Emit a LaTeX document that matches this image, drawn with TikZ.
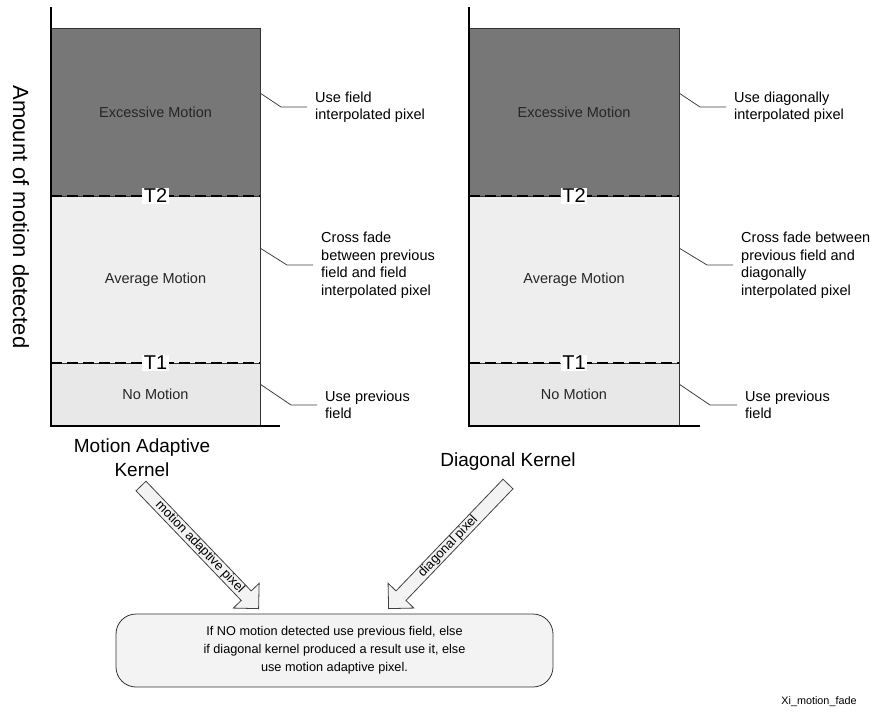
\documentclass[tikz,border=0pt]{standalone}
\usepackage{fontspec}
\setmainfont{Liberation Sans}
\usetikzlibrary{positioning,calc,shapes.arrows}

\definecolor{excfill}{HTML}{777777}
\definecolor{avgfill}{HTML}{EEEEEE}
\definecolor{nomfill}{HTML}{E8E8E8}
\definecolor{boxfill}{HTML}{F3F3F3}

\tikzset{
    band/.style = {
        draw=black!80,
        shape=rectangle,
        minimum width=209pt,
        line width=1pt,
        inner sep=0pt,
        outer sep=0pt,
        text=black!85,
        font=\fontsize{14.5}{17}\selectfont
    },
    excessive/.style = {band, fill=excfill, minimum height=168pt},
    average/.style = {band, fill=avgfill, minimum height=167pt},
    nomotion/.style = {band, fill=nomfill, minimum height=63pt},
    threshold/.style = {
        fill=white,
        inner sep=1.5pt,
        font=\fontsize{20}{20}\selectfont
    },
    tline/.style = {
        black!45,
        line width=1.5pt,
        postaction={draw=black, dash pattern=on 11pt off 5pt}
    },
    axisline/.style = {draw=black, line width=1.2pt},
    leader/.style = {draw=black!75, line width=0.8pt},
    note/.style = {
        anchor=west,
        inner xsep=8pt,
        inner ysep=0pt,
        align=left,
        font=\fontsize{14.5}{17.5}\selectfont
    },
    kernel/.style = {align=center, font=\fontsize{19}{24}\selectfont},
    decision/.style = {
        draw=black!80,
        fill=boxfill,
        shape=rectangle,
        rounded corners=20pt,
        minimum width=437pt,
        minimum height=73pt,
        line width=0.8pt,
        align=center,
        font=\fontsize{12.7}{18}\selectfont
    },
    fatarrow/.style = {
        draw=black!75,
        fill=boxfill,
        shape=single arrow,
        single arrow head extend=11pt,
        inner sep=6.5pt,
        outer sep=0pt,
        line width=0.8pt
    },
    arrowlabel/.style = {inner sep=0pt, font=\fontsize{13}{13}\selectfont},
}

\begin{document}
\begin{tikzpicture}[x=1pt, y=-1pt]
    \useasboundingbox (0,0) rectangle (872,721);

    \node[rotate=-90, font=\fontsize{22}{22}\selectfont] (ylabel) at (21,217) {Amount of motion detected};

    % motion adaptive kernel
    \node[excessive, anchor=north west] (exc1) at (51,28) {Excessive Motion};
    \node[average, below=0pt of exc1] (avg1) {Average Motion};
    \node[nomotion, below=0pt of avg1] (nom1) {No Motion};

    % diagonal kernel
    \node[excessive, anchor=north west, minimum width=210pt] (exc2) at (469,28) {Excessive Motion};
    \node[average, minimum width=210pt, below=0pt of exc2] (avg2) {Average Motion};
    \node[nomotion, minimum width=210pt, below=0pt of avg2] (nom2) {No Motion};

    \path[tline] (exc1.south west) -- (exc1.south east);
    \path[tline] (avg1.south west) -- (avg1.south east);
    \path[tline] (exc2.south west) -- (exc2.south east);
    \path[tline] (avg2.south west) -- (avg2.south east);
    \node[threshold] (t2a) at (exc1.south) {T2};
    \node[threshold] (t1a) at (avg1.south) {T1};
    \node[threshold] (t2b) at (exc2.south) {T2};
    \node[threshold] (t1b) at (avg2.south) {T1};

    \path[axisline] ($(exc1.north west)+(0,-21)$) -- (nom1.south west) -- ++(229,0);
    \path[axisline] ($(exc2.north west)+(0,-21)$) -- (nom2.south west) -- ++(231,0);

    \node[note] (note1) at (307,107) {Use field\\interpolated pixel};
    \node[note] (note2) at (313,265) {Cross fade\\between previous\\field and field\\interpolated pixel};
    \node[note] (note3) at (317,405) {Use previous\\field};
    \node[note] (note4) at (726,107) {Use diagonally\\interpolated pixel};
    \node[note] (note5) at (733,265) {Cross fade between\\previous field and\\diagonally\\interpolated pixel};
    \node[note] (note6) at (737,405) {Use previous\\field};

    \path[leader] ($(exc1.north east)+(0,65)$) -- ++(21,14) -- (note1.west);
    \path[leader] ($(avg1.north east)+(0,52)$) -- ++(27,17) -- (note2.west);
    \path[leader] ($(nom1.north east)+(0,21)$) -- ++(31,21) -- (note3.west);
    \path[leader] ($(exc2.north east)+(0,65)$) -- ++(21,14) -- (note4.west);
    \path[leader] ($(avg2.north east)+(0,52)$) -- ++(28,17) -- (note5.west);
    \path[leader] ($(nom2.north east)+(0,21)$) -- ++(31,21) -- (note6.west);

    \node[kernel] (makernel) at (142,458) {Motion Adaptive\\Kernel};
    \node[kernel] (dkernel) at (508,462) {Diagonal Kernel};

    \node[decision] (decide) at (334.5,650.5) {If NO motion detected use previous field, else\\if diagonal kernel produced a result use it, else\\use motion adaptive pixel.};

    \coordinate (matail) at (141,486);
    \coordinate (matip) at ($(decide.north west)+(143,-5)$);
    \coordinate (dtail) at (508,484);
    \coordinate (dtip) at ($(decide.north west)+(273,-5)$);

    \path let \p1 = ($(matip)-(matail)$) in
        node[fatarrow, rotate={atan2(\y1,\x1)}, minimum height={veclen(\x1,\y1)}, anchor=tail] (maarrow) at (matail) {};
    \path let \p1 = ($(dtip)-(dtail)$) in
        node[fatarrow, rotate={atan2(\y1,\x1)}, minimum height={veclen(\x1,\y1)}, anchor=tail] (darrow) at (dtail) {};
    \path (matail) -- (matip) node[midway, sloped, arrowlabel] {motion adaptive pixel};
    \path (dtail) -- (dtip) node[midway, sloped, arrowlabel] {diagonal pixel};

    \node[font=\fontsize{10.8}{12}\selectfont] (figtag) at (819,702) {Xi\_motion\_fade};
\end{tikzpicture}
\end{document}
